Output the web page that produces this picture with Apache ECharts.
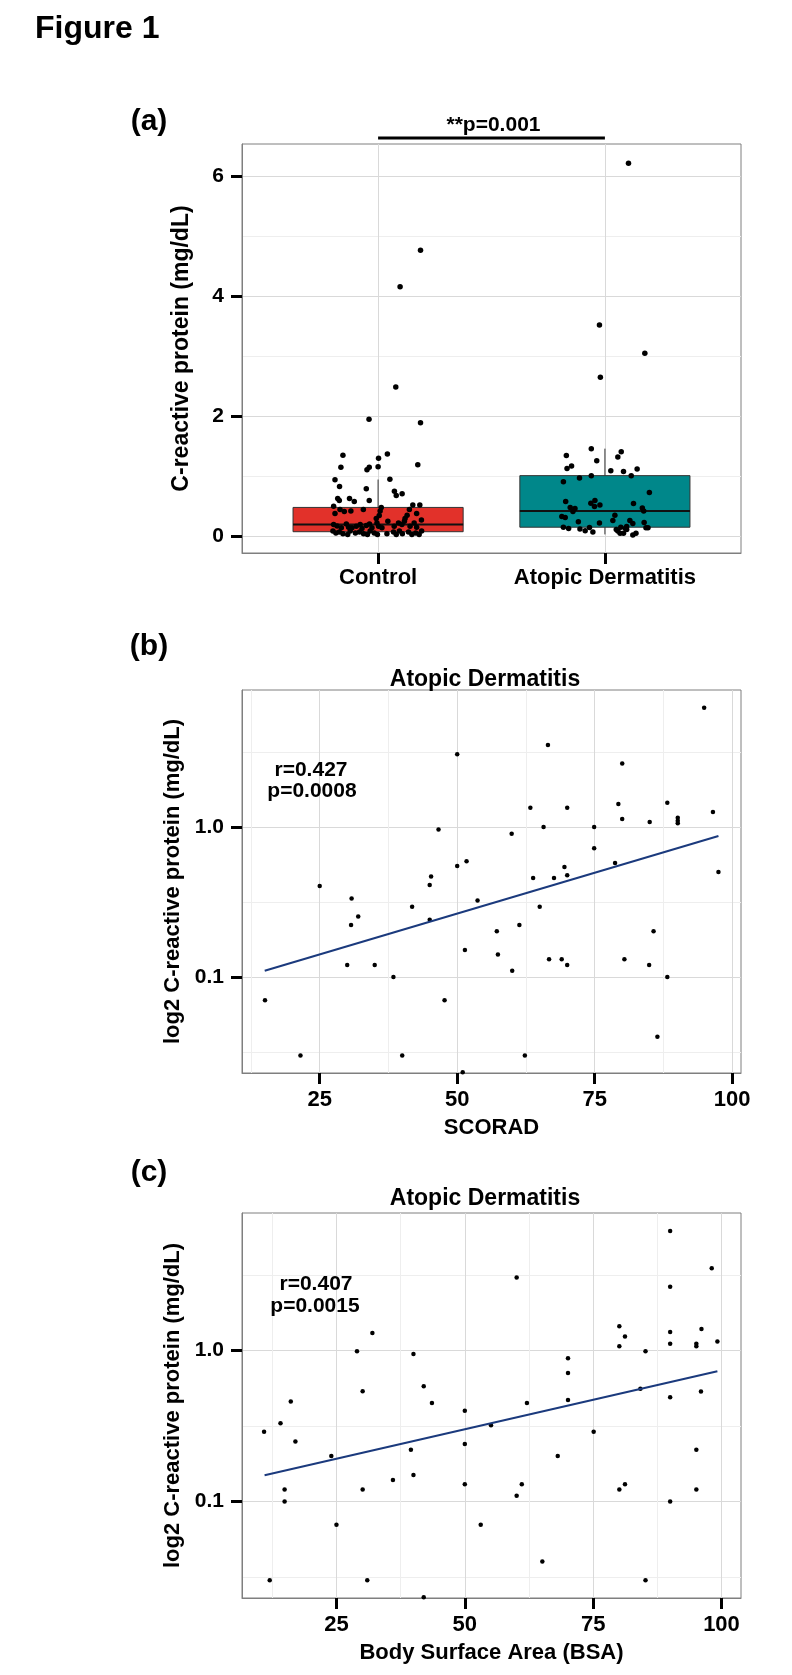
<!DOCTYPE html>
<html>
<head>
<meta charset="utf-8">
<title>Figure 1</title>
<script src="https://cdn.jsdelivr.net/npm/echarts@6/dist/echarts.min.js"></script>
<style>
  html, body { margin: 0; padding: 0; background: #fff; }
  #fig { width: 792px; height: 1675px; }
</style>
</head>
<body>
<div id="fig"></div>
<script>
// ---------------- data ----------------
const groups = ['Control', 'Atopic Dermatitis'];
const boxColors = ['#E2312A', '#00878A'];
// [lower whisker, Q1, median, Q3, upper whisker]
const controlBox = [0.03, 0.075, 0.195, 0.48, 0.945];
const adBox = [0.03, 0.15, 0.42, 1.01, 1.46];

// jitter offset from the group centre (group units) and CRP (mg/dL)
const controlJitter = [0.187, 0.097, 0.078, -0.04, 0.187,
  -0.155, 0.041, 0.002, -0.164, -0.039, -0.049, 0.0, 0.175, -0.19, 0.052, -0.17, -0.052, 0.072, 0.106, 0.08,
  -0.178, -0.171, -0.126, -0.105, -0.039, -0.196, -0.168, -0.149, -0.12, -0.065, 0.014, 0.009, 0.005, -0.008,
  0.153, 0.184, 0.138, 0.17, 0.128, 0.119, 0.191, -0.19, -0.196, -0.181, -0.162, -0.14, -0.13, -0.115, -0.096,
  -0.079, -0.071, -0.052, -0.038, -0.027, -0.005, 0.002, 0.017, 0.043, 0.071, 0.09, 0.105, 0.116, 0.141, 0.159,
  0.17, 0.192, -0.199, -0.186, -0.171, -0.155, -0.134, -0.123, -0.1, -0.082, -0.064, -0.047, -0.035, -0.017,
  -0.003, 0.039, 0.068, 0.08, 0.094, 0.107, 0.134, 0.149, 0.166, 0.181];
const controlCrp = [4.77, 4.16, 2.49, 1.95, 1.89,
  1.35, 1.37, 1.30, 1.15, 1.15, 1.11, 1.16, 1.19, 0.94, 0.95, 0.83, 0.79, 0.75, 0.71, 0.68,
  0.63, 0.595, 0.63, 0.58, 0.595, 0.50, 0.445, 0.41, 0.42, 0.445, 0.48, 0.42, 0.345, 0.295,
  0.52, 0.52, 0.445, 0.38, 0.35, 0.295, 0.27, 0.38, 0.195, 0.17, 0.14, 0.205, 0.15, 0.14, 0.165,
  0.195, 0.13, 0.18, 0.205, 0.14, 0.22, 0.165, 0.14, 0.25, 0.165, 0.22, 0.195, 0.25, 0.165, 0.22,
  0.15, 0.085, 0.085, 0.055, 0.07, 0.04, 0.03, 0.085, 0.055, 0.07, 0.04, 0.03, 0.085, 0.055,
  0.03, 0.04, 0.07, 0.03, 0.085, 0.04, 0.07, 0.03, 0.055, 0.03];

const adJitter = [0.104, -0.024, 0.176, -0.02,
  -0.17, -0.06, 0.072, 0.057, -0.036, -0.167, -0.147, 0.026, 0.082, 0.142, 0.116, -0.06, -0.112, -0.183,
  0.196, -0.173, -0.062, -0.044, -0.022, -0.046, 0.126, -0.153, -0.132, -0.141, 0.165, 0.171, -0.19, -0.175,
  0.044, 0.035, -0.117, -0.024, 0.11, 0.123, 0.173, -0.183, -0.16, -0.11, -0.087, -0.068, -0.053, 0.05,
  0.057, 0.067, 0.082, 0.09, 0.096, 0.07, 0.096, 0.123, 0.137, 0.181, 0.19];
const adCrp = [6.22, 3.52, 3.05, 2.65,
  1.345, 1.46, 1.41, 1.32, 1.26, 1.13, 1.17, 1.09, 1.08, 1.12, 1.01, 1.01, 0.97, 0.91,
  0.73, 0.58, 0.55, 0.595, 0.52, 0.495, 0.545, 0.48, 0.46, 0.41, 0.47, 0.42, 0.33, 0.31,
  0.35, 0.26, 0.24, 0.22, 0.26, 0.21, 0.23, 0.15, 0.13, 0.12, 0.09, 0.145, 0.07, 0.11,
  0.085, 0.05, 0.05, 0.13, 0.16, 0.15, 0.11, 0.02, 0.05, 0.14, 0.14];

// (b) SCORAD vs CRP
const scoradX = [94.9, 66.5, 50.0, 80.0, 88.2, 63.3, 70.0, 79.3, 96.5, 80.0, 85.0, 90.1, 90.1, 90.1, 65.7,
  74.9, 46.6, 59.9, 74.9, 51.7, 50.0, 69.5, 78.7, 97.5, 25.0, 45.25, 45.0, 63.8, 67.6, 70.0, 30.8, 53.7,
  41.8, 65.0, 32.0, 45.0, 30.7, 61.3, 57.2, 85.7, 51.4, 57.4, 66.7, 69.0, 80.4, 30.0, 35.0, 70.0, 84.9,
  60.0, 38.4, 88.2, 15.05, 47.7, 86.4, 21.5, 40.0, 62.3, 51.0];
const scoradCrp = [6.22, 3.52, 3.05, 2.65, 1.45, 1.34, 1.34, 1.42, 1.26, 1.13, 1.08, 1.15, 1.1, 1.06, 1.0,
  1.0, 0.96, 0.90, 0.72, 0.59, 0.55, 0.54, 0.575, 0.5, 0.404, 0.467, 0.41, 0.457, 0.457, 0.477, 0.333, 0.323,
  0.294, 0.294, 0.253, 0.241, 0.222, 0.222, 0.202, 0.202, 0.151, 0.141, 0.131, 0.131, 0.131, 0.12, 0.12, 0.12, 0.12,
  0.11, 0.1, 0.1, 0.07, 0.07, 0.04, 0.03, 0.03, 0.03, 0.0232];
const scoradFitX = [15, 97.5];
const scoradFitY = [0.11, 0.87];

// (c) BSA vs CRP
const bsaX = [90.0, 60.1, 98.1, 90.0, 80.1, 81.2, 90.0, 96.1, 32.0, 80.1, 90.0, 95.1, 95.1, 99.2, 29.0,
  85.2, 40.0, 70.1, 70.1, 42.0, 30.1, 96.0, 84.2, 90.0, 70.1, 16.1, 43.6, 62.1, 50.0, 14.1, 55.1, 10.9,
  75.1, 17.0, 50.0, 39.5, 95.1, 24.0, 68.1, 36.0, 40.0, 50.0, 61.1, 81.2, 14.9, 30.1, 80.1, 95.1, 60.1,
  14.9, 90.0, 25.0, 53.1, 65.1, 12.0, 31.0, 85.2, 42.0];
const bsaCrp = [6.22, 3.05, 3.52, 2.65, 1.45, 1.24, 1.33, 1.39, 1.31, 1.07, 1.11, 1.11, 1.07, 1.15, 0.99,
  0.99, 0.95, 0.89, 0.71, 0.58, 0.537, 0.535, 0.56, 0.49, 0.47, 0.46, 0.45, 0.45, 0.40, 0.33, 0.32, 0.29,
  0.29, 0.25, 0.24, 0.22, 0.22, 0.20, 0.20, 0.139, 0.15, 0.13, 0.13, 0.13, 0.12, 0.12, 0.12, 0.12, 0.109,
  0.1, 0.1, 0.07, 0.07, 0.04, 0.03, 0.03, 0.03, 0.0232];
const bsaFitX = [11, 99.2];
const bsaFitY = [0.149, 0.73];

// tick / grid values
const crpTicks = [0, 2, 4, 6];
const crpMinor = [1, 3, 5];
const logTicks = [0.1, 1];
const logMinor = [0.0316, 0.316, 3.16];
const scoreTicks = [25, 50, 75, 100];
const scoreMinor = [12.5, 37.5, 62.5, 87.5];

// ---------------- chart ----------------
const FONT = '"Liberation Sans", Arial, sans-serif';
const MAJOR = '#D9D9D9';
const MINOR = '#EEEEEE';
const BORDER = '#7F7F7F';

const chart = echarts.init(document.getElementById('fig'), null, { renderer: 'canvas' });

function zip(xs, ys) { return xs.map((x, i) => [x, ys[i]]); }

function mainAxis(o) {
  return {
    gridIndex: o.grid,
    type: o.type || 'value',
    logBase: 10,
    position: o.position,
    min: o.min, max: o.max,
    name: o.name || '',
    nameLocation: 'middle',
    nameGap: o.nameGap,
    nameTextStyle: { fontFamily: FONT, fontWeight: 'bold', fontSize: o.nameSize || 22, color: '#000' },
    axisLine: { show: true, onZero: false, lineStyle: { color: BORDER, width: 1 } },
    axisTick: { show: true, inside: false, length: 11, customValues: o.ticks, lineStyle: { color: '#000', width: 3 } },
    axisLabel: {
      show: true, customValues: o.ticks, margin: o.margin, formatter: o.fmt,
      fontFamily: FONT, fontWeight: 'bold', fontSize: o.fontSize, color: '#000'
    },
    splitLine: { show: true, lineStyle: { color: MAJOR, width: 1 } }
  };
}

function minorAxis(grid, type, position, min, max, values) {
  return {
    gridIndex: grid, type: type, logBase: 10, position: position, min: min, max: max,
    axisLine: { show: false },
    axisTick: { show: false, customValues: values },
    axisLabel: { show: false },
    splitLine: { show: true, lineStyle: { color: MINOR, width: 1 } }
  };
}

function renderBox(params, api) {
  const x = api.value(0);
  const half = api.size([0.75, 0])[0] / 2;
  const cx = api.coord([x, api.value(3)])[0];
  const yLo = api.coord([x, api.value(1)])[1];
  const yQ1 = api.coord([x, api.value(2)])[1];
  const yMed = api.coord([x, api.value(3)])[1];
  const yQ3 = api.coord([x, api.value(4)])[1];
  const yHi = api.coord([x, api.value(5)])[1];
  const stroke = '#333333';
  return {
    type: 'group',
    children: [
      { type: 'line', shape: { x1: cx, y1: yHi, x2: cx, y2: yQ3 }, style: { stroke: stroke, lineWidth: 1 } },
      { type: 'line', shape: { x1: cx, y1: yQ1, x2: cx, y2: yLo }, style: { stroke: stroke, lineWidth: 1 } },
      { type: 'rect', shape: { x: cx - half, y: yQ3, width: half * 2, height: yQ1 - yQ3 },
        style: { fill: boxColors[params.dataIndex], stroke: stroke, lineWidth: 1 } },
      { type: 'line', shape: { x1: cx - half, y1: yMed, x2: cx + half, y2: yMed }, style: { stroke: '#111', lineWidth: 2 } }
    ]
  };
}

const gridStyle = { show: true, backgroundColor: '#fff', borderColor: BORDER, borderWidth: 1, containLabel: false, outerBoundsMode: 'none' };
const LOGMIN = 0.0229, LOGMAX = 8.18;

const option = {
  animation: false,
  backgroundColor: '#fff',
  textStyle: { fontFamily: FONT },
  grid: [
    Object.assign({ left: 242, top: 144, width: 499, height: 409 }, gridStyle),
    Object.assign({ left: 242, top: 690, width: 499, height: 383 }, gridStyle),
    Object.assign({ left: 242, top: 1213, width: 499, height: 385 }, gridStyle)
  ],
  xAxis: [
    mainAxis({ grid: 0, position: 'bottom', min: 0.4, max: 2.6, ticks: [1, 2], margin: 14, fontSize: 22,
      fmt: v => groups[Math.round(v) - 1] }),
    mainAxis({ grid: 1, position: 'bottom', min: 10.87, max: 101.6, ticks: scoreTicks, margin: 16, fontSize: 22,
      name: 'SCORAD', nameGap: 44, fmt: v => String(v) }),
    minorAxis(1, 'value', 'top', 10.87, 101.6, scoreMinor),
    mainAxis({ grid: 2, position: 'bottom', min: 6.6, max: 103.8, ticks: scoreTicks, margin: 16, fontSize: 22,
      name: 'Body Surface Area (BSA)', nameGap: 44, fmt: v => String(v) }),
    minorAxis(2, 'value', 'top', 6.6, 103.8, scoreMinor)
  ],
  yAxis: [
    mainAxis({ grid: 0, position: 'left', min: -0.28, max: 6.54, ticks: crpTicks, margin: 18, fontSize: 21,
      name: 'C-reactive protein (mg/dL)', nameGap: 49, nameSize: 23, fmt: v => String(v) }),
    minorAxis(0, 'value', 'right', -0.28, 6.54, crpMinor),
    mainAxis({ grid: 1, type: 'log', position: 'left', min: LOGMIN, max: LOGMAX, ticks: logTicks, margin: 18, fontSize: 21,
      name: 'log2 C-reactive protein (mg/dL)', nameGap: 52, fmt: v => Number(v).toFixed(1) }),
    minorAxis(1, 'log', 'right', LOGMIN, LOGMAX, logMinor),
    mainAxis({ grid: 2, type: 'log', position: 'left', min: LOGMIN, max: LOGMAX, ticks: logTicks, margin: 18, fontSize: 21,
      name: 'log2 C-reactive protein (mg/dL)', nameGap: 52, fmt: v => Number(v).toFixed(1) }),
    minorAxis(2, 'log', 'right', LOGMIN, LOGMAX, logMinor)
  ],
  series: [
    {
      type: 'custom', xAxisIndex: 0, yAxisIndex: 0, z: 2, silent: true,
      renderItem: renderBox,
      encode: { x: 0, y: [1, 2, 3, 4, 5] },
      data: [[1].concat(controlBox), [2].concat(adBox)]
    },
    {
      type: 'scatter', xAxisIndex: 0, yAxisIndex: 0, z: 3, symbolSize: 5.5,
      itemStyle: { color: '#000', opacity: 1 },
      data: controlJitter.map((d, i) => [1 + d, controlCrp[i]])
    },
    {
      type: 'scatter', xAxisIndex: 0, yAxisIndex: 0, z: 3, symbolSize: 5.5,
      itemStyle: { color: '#000', opacity: 1 },
      data: adJitter.map((d, i) => [2 + d, adCrp[i]])
    },
    {
      type: 'scatter', xAxisIndex: 1, yAxisIndex: 2, z: 3, symbolSize: 4.5,
      itemStyle: { color: '#000', opacity: 1 },
      data: zip(scoradX, scoradCrp)
    },
    {
      type: 'line', xAxisIndex: 1, yAxisIndex: 2, z: 4, showSymbol: false, symbol: 'none',
      lineStyle: { color: '#1B3A7D', width: 2 },
      data: zip(scoradFitX, scoradFitY)
    },
    {
      type: 'scatter', xAxisIndex: 3, yAxisIndex: 4, z: 3, symbolSize: 4.5,
      itemStyle: { color: '#000', opacity: 1 },
      data: zip(bsaX, bsaCrp)
    },
    {
      type: 'line', xAxisIndex: 3, yAxisIndex: 4, z: 4, showSymbol: false, symbol: 'none',
      lineStyle: { color: '#1B3A7D', width: 2 },
      data: zip(bsaFitX, bsaFitY)
    }
  ]
};

chart.setOption(option);

// annotations (text + significance bar between the two group centres)
function txt(x, y, s, size, align) {
  return {
    type: 'text', x: x, y: y, z: 10,
    style: { text: s, fill: '#000', font: 'bold ' + size + 'px ' + FONT, align: align || 'center', verticalAlign: 'middle' }
  };
}
const xCtrl = chart.convertToPixel({ xAxisIndex: 0 }, 1);
const xAd = chart.convertToPixel({ xAxisIndex: 0 }, 2);

chart.setOption({
  graphic: [
    txt(35, 29, 'Figure 1', 32, 'left'),
    txt(149, 122, '(a)', 30),
    txt(149, 647, '(b)', 30),
    txt(149, 1173, '(c)', 30),
    txt((xCtrl + xAd) / 2 + 2, 125, '**p=0.001', 21),
    {
      type: 'line', z: 10,
      shape: { x1: xCtrl, y1: 138, x2: xAd, y2: 138 },
      style: { stroke: '#000', lineWidth: 3 }
    },
    txt(485, 680, 'Atopic Dermatitis', 23),
    txt(311, 770, 'r=0.427', 21),
    txt(312, 791, 'p=0.0008', 21),
    txt(485, 1199, 'Atopic Dermatitis', 23),
    txt(316, 1284, 'r=0.407', 21),
    txt(315, 1306, 'p=0.0015', 21)
  ]
});
</script>
</body>
</html>
